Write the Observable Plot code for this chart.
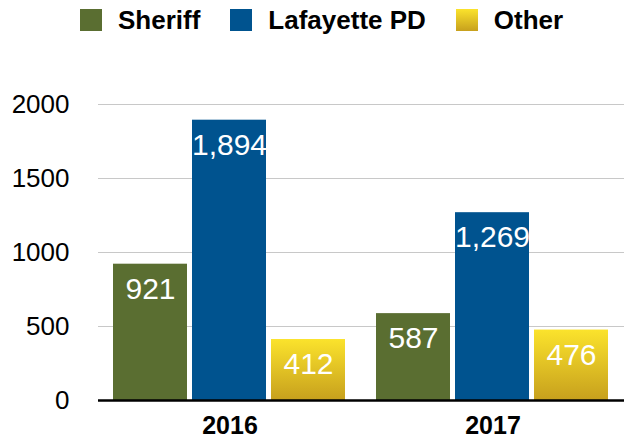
<!DOCTYPE html>
<html>
<head>
<meta charset="utf-8">
<script src="https://cdn.jsdelivr.net/npm/d3@7"></script>
<script src="https://cdn.jsdelivr.net/npm/@observablehq/plot@0.6"></script>
<style>
  html, body { margin: 0; padding: 0; background: white; }
  body { width: 624px; height: 441px; overflow: hidden; font-family: "Liberation Sans", Arial, Helvetica, sans-serif; }
  #legend { height: 44px; box-sizing: border-box; padding-top: 9px; padding-left: 80px; display: flex; align-items: flex-start; }
  .item { display: flex; align-items: center; margin-right: 30px; height: 22px; }
  .sw { width: 22px; height: 22px; }
  .lab { margin-left: 16px; font-weight: bold; font-size: 26px; line-height: 22px; color: #000; }
</style>
</head>
<body>
<svg width="0" height="0" style="position:absolute">
  <defs>
    <linearGradient id="gradOther" x1="0" y1="0" x2="0" y2="1">
      <stop offset="0" stop-color="#fbe32c"/>
      <stop offset="1" stop-color="#c7a01d"/>
    </linearGradient>
  </defs>
</svg>
<div id="legend"></div>
<div id="chart"></div>
<script>
const years = ["2016", "2017"];
const series = ["Sheriff", "Lafayette PD", "Other"];
const sheriff = [921, 587];
const lafayettePD = [1894, 1269];
const other = [412, 476];
const yTicks = [0, 500, 1000, 1500, 2000];

const colors = ["#5a6e31", "#00538f", "url(#gradOther)"];
const swatchCss = ["#5a6e31", "#00538f", "linear-gradient(#fbe32c, #c7a01d)"];

const valuesBySeries = [sheriff, lafayettePD, other];
const rows = [];
years.forEach((yr, i) => {
  series.forEach((s, j) => rows.push({year: yr, series: s, value: valuesBySeries[j][i]}));
});

// Legend
const legend = document.getElementById("legend");
series.forEach((s, j) => {
  const it = document.createElement("div");
  it.className = "item";
  const sw = document.createElement("div");
  sw.className = "sw";
  sw.style.background = swatchCss[j];
  const lab = document.createElement("span");
  lab.className = "lab";
  lab.textContent = s;
  it.appendChild(sw); it.appendChild(lab);
  legend.appendChild(it);
});

const chart = Plot.plot({
  width: 624,
  height: 397,
  marginLeft: 97,
  marginRight: 0,
  marginTop: 60,
  marginBottom: 41,
  style: {fontFamily: "'Liberation Sans', Arial, Helvetica, sans-serif", fontSize: "26px", background: "white", color: "black"},
  fx: {domain: years, padding: 0, label: null},
  x: {domain: series, paddingInner: 0.0625, paddingOuter: 0.18, axis: null},
  y: {domain: [0, 2000], label: null},
  color: {domain: series, range: colors},
  marks: [
    Plot.gridY(yTicks, {stroke: "#c8c8c8", strokeOpacity: 1, strokeWidth: 1}),
    Plot.axisY(yTicks, {tickSize: 0, tickPadding: 29, fontSize: 26, tickFormat: d3.format("d"), label: null}),
    Plot.axisFx({anchor: "bottom", tickSize: 0, tickPadding: 16, fontSize: 25, fontWeight: "bold", label: null}),
    Plot.barY(rows, {fx: "year", x: "series", y: "value", fill: "series"}),
    Plot.ruleY([0], {stroke: "black", strokeWidth: 2.5}),
    Plot.text(rows, {fx: "year", x: "series", y: "value", text: d => d3.format(",")(d.value), dy: 25, fill: "white", fontSize: 30, lineAnchor: "middle"})
  ]
});
document.getElementById("chart").appendChild(chart);
</script>
</body>
</html>
